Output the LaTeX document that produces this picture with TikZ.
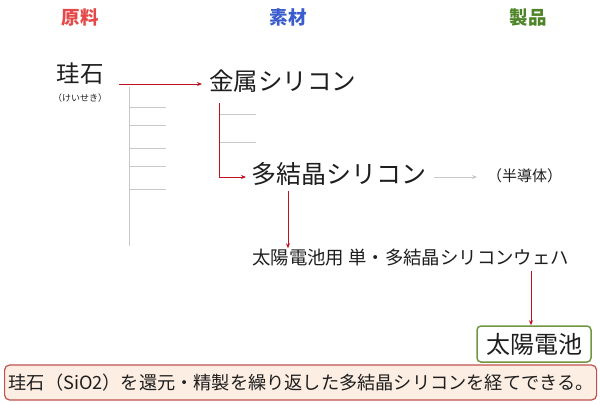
\documentclass[tikz,border=0pt]{standalone}
\usepackage{fontspec}
\setmainfont{Noto Sans CJK JP}
\usetikzlibrary{calc,arrows.meta}
\definecolor{hred}{RGB}{228,72,72}
\definecolor{hblue}{RGB}{58,92,204}
\definecolor{hgreen}{RGB}{78,132,40}
\definecolor{arrred}{RGB}{192,16,32}
\definecolor{treegray}{RGB}{200,200,200}
\definecolor{boxgreen}{RGB}{112,150,64}
\definecolor{boxred}{RGB}{192,80,77}
\definecolor{boxfill}{RGB}{253,238,227}
\definecolor{ink}{RGB}{30,30,30}
\newcommand{\fs}[1]{\fontsize{#1}{#1}\selectfont}
\tikzset{
  hd/.style={inner sep=0pt, font=\fs{18.5pt}\bfseries},
  big/.style={inner sep=0pt, text=ink, font=\fs{24.5pt}},
  mid/.style={inner sep=0pt, text=ink, font=\fs{18.4pt}},
  small/.style={inner sep=0pt, text=ink, font=\fs{15pt}},
  tiny/.style={inner sep=0pt, text=ink, font=\fs{9pt}},
  redarr/.style={draw=arrred, line width=0.9pt, -{Stealth[length=5pt,width=4pt]}},
  grayarr/.style={draw=treegray, line width=0.9pt, -{Stealth[length=5pt,width=4pt]}},
  treeline/.style={draw=treegray, line width=1pt},
}
\begin{document}
\begin{tikzpicture}[x=1pt,y=1pt]
\useasboundingbox (0,0) rectangle (600,-404);
% headers
\node[hd, text=hred] (h1) at (80,-17) {原料};
\node[hd, text=hblue] (h2) at (288,-17) {素材};
\node[hd, text=hgreen] (h3) at (528,-17) {製品};
% main nodes
\node[big, font=\fs{23.5pt}] (keiseki) at (80,-74) {珪石};
\node[tiny] (yomi) at (80,-98) {（けいせき）};
\node[big, anchor=west] (kinzoku) at (209,-81) {金属シリコン};
\node[big, font=\fs{25pt}, anchor=west] (takessho) at (251,-174) {多結晶シリコン};
\node[small, anchor=west] (handotai) at (487,-176) {（半導体）};
\node[mid, anchor=west] (wafer) at (252,-258) {太陽電池用 単・多結晶シリコンウェハ};
\node[draw=boxgreen, line width=1.5pt, rounded corners=4pt, fill=white,
      minimum width=114pt, minimum height=36pt, inner sep=0pt, text=ink, font=\fs{24pt}]
      (taiyo) at (534,-344) {太陽電池};
\node[draw=boxred, line width=1.2pt, rounded corners=5pt, fill=boxfill,
      anchor=west, text width=584pt, inner xsep=4pt, inner ysep=0pt, minimum height=35pt,
      align=left, text=ink, font=\fs{18.2pt}]
      (note) at (4,-382.5) {珪石（SiO2）を還元・精製を繰り返した多結晶シリコンを経てできる。};
% gray tree under keiseki
\coordinate (g0) at (129,-87);
\coordinate (g1) at (129,-246);
\draw[treeline] (g0) -- (g1);
\foreach \yy in {107,125,148,166,189}{
  \draw[treeline] (129,-\yy) -- (166,-\yy);
}
% gray branches under kinzoku
\foreach \yy in {114,142}{
  \draw[treeline] (219,-\yy) -- (256,-\yy);
}
% red connectors
\draw[redarr] ($(keiseki.east)+(15,-10)$) -- ($(kinzoku.west)+(-7,-3)$);
\coordinate (r2) at ($(kinzoku.west)+(10,-22)$);
\draw[redarr] (r2) |- ($(takessho.west)+(-5,-3)$);
\draw[redarr] ([xshift=37pt,yshift=-5pt]takessho.south west) -- ([xshift=36pt,yshift=1pt]wafer.north west);
\coordinate (t4) at ([xshift=-3pt]taiyo.north);
\draw[redarr] ([yshift=-4pt]t4 |- wafer.south) -- (t4);
% gray arrow
\draw[grayarr] ($(takessho.east)+(8,-3)$) -- ($(handotai.west)+(-10,-1)$);
\end{tikzpicture}
\end{document}
